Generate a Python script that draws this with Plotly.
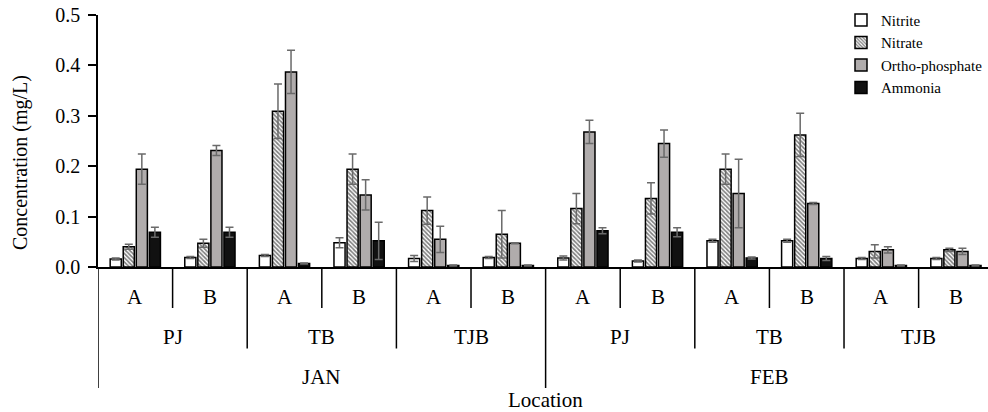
import plotly.graph_objects as go

# ---- data ----
months = ["JAN"] * 6 + ["FEB"] * 6
locations = ["PJ", "PJ", "TB", "TB", "TJB", "TJB"] * 2
sites = ["A", "B"] * 6

nitrite = [0.016, 0.019, 0.023, 0.048, 0.017, 0.019, 0.018, 0.012, 0.052, 0.052, 0.017, 0.017]
nitrite_err = [0.002, 0.002, 0.002, 0.010, 0.006, 0.002, 0.004, 0.002, 0.003, 0.003, 0.002, 0.002]

nitrate = [0.040, 0.047, 0.309, 0.194, 0.112, 0.065, 0.116, 0.136, 0.194, 0.262, 0.031, 0.034]
nitrate_err = [0.005, 0.008, 0.054, 0.030, 0.027, 0.047, 0.030, 0.031, 0.030, 0.043, 0.013, 0.003]

ortho = [0.194, 0.231, 0.387, 0.143, 0.055, 0.047, 0.268, 0.245, 0.146, 0.126, 0.034, 0.031]
ortho_err = [0.030, 0.010, 0.043, 0.030, 0.026, 0.001, 0.023, 0.027, 0.068, 0.002, 0.006, 0.006]

ammonia = [0.069, 0.069, 0.007, 0.052, 0.003, 0.003, 0.072, 0.069, 0.018, 0.017, 0.003, 0.003]
ammonia_err = [0.010, 0.010, 0.001, 0.037, 0.001, 0.001, 0.006, 0.009, 0.002, 0.004, 0.001, 0.001]

yticks = [0.0, 0.1, 0.2, 0.3, 0.4, 0.5]

# ---- figure ----
FONT = "Times New Roman"
x = list(range(len(sites)))

series = [
    ("Nitrite", nitrite, nitrite_err, dict(color="white")),
    ("Nitrate", nitrate, nitrate_err,
     dict(color="white", pattern=dict(shape="\\", fgcolor="black", bgcolor="white", size=3, solidity=0.55))),
    ("Ortho-phosphate", ortho, ortho_err, dict(color="#b0acac")),
    ("Ammonia", ammonia, ammonia_err, dict(color="#111111")),
]

fig = go.Figure()
for name, vals, errs, mk in series:
    mk = dict(mk)
    mk["line"] = dict(color="black", width=1.5)
    fig.add_trace(go.Bar(
        x=x, y=vals, name=name, marker=mk,
        error_y=dict(type="data", array=errs, visible=True, color="#6a6a6a", thickness=1.5, width=4),
    ))

W, H = 988, 412
PLOT_L, PLOT_T, PLOT_B = 98, 15, 267
PLOT_H = PLOT_B - PLOT_T
PLOT_W = W - PLOT_L

n = len(sites)
fig.update_layout(
    width=W, height=H,
    margin=dict(l=PLOT_L, r=0, t=PLOT_T, b=H - PLOT_B, autoexpand=False),
    paper_bgcolor="white", plot_bgcolor="white",
    barmode="group", bargap=0.3, bargroupgap=0.15,
    font=dict(family=FONT, size=20, color="black"),
    showlegend=True,
    legend=dict(x=1.0, y=1.045, xanchor="right", yanchor="top", bgcolor="rgba(0,0,0,0)",
                font=dict(size=15, family=FONT), tracegroupgap=0, itemwidth=30),
    xaxis=dict(range=[-0.5, n - 0.57], showticklabels=False, ticks="", showgrid=False, automargin=False,
               zeroline=False, showline=True, linecolor="black", linewidth=1.5),
    yaxis=dict(range=[0, 0.5], tickvals=yticks, tickformat=".1f", ticks="outside", ticklen=8,
               tickwidth=1.5, tickcolor="black", showgrid=False, zeroline=False, showline=True,
               ticklabeloverflow="allow", ticklabelstandoff=4,
               automargin=False, linecolor="black", linewidth=1.5, tickfont=dict(size=20, family=FONT)),
)

# ---- hierarchical x labels (positions given in screenshot pixels) ----
def ypaper(px):
    return (PLOT_B - px) / float(PLOT_H)

levels = [(sites, ypaper(296.5), ypaper(308)),
          (locations, ypaper(336.5), ypaper(348.5)),
          (months, ypaper(376.5), ypaper(388))]

shapes = []
annos = []
for li, (labels, ylab, ybot) in enumerate(levels):
    start = 0
    for i in range(1, n + 1):
        boundary = i == n
        if not boundary:
            for hl in range(li, len(levels)):
                if levels[hl][0][i] != levels[hl][0][i - 1]:
                    boundary = True
                    break
        if boundary:
            annos.append(dict(x=(start + i - 1) / 2.0, y=ylab, xref="x", yref="paper",
                              text=labels[start], showarrow=False, xanchor="center", yanchor="middle",
                              font=dict(size=21, family=FONT)))
            start = i

for i in range(n + 1):
    if i == 0 or i == n or months[i] != months[i - 1]:
        depth = levels[2][2]
    elif locations[i] != locations[i - 1]:
        depth = levels[1][2]
    else:
        depth = levels[0][2]
    shapes.append(dict(type="line", xref="x", yref="paper", x0=i - 0.5, x1=i - 0.5,
                       y0=0, y1=depth, line=dict(color="black", width=1.5)))

annos.append(dict(x=(n - 1) / 2.0, y=ypaper(400), xref="x", yref="paper", text="Location",
                  showarrow=False, xanchor="center", yanchor="middle", font=dict(size=21, family=FONT)))
annos.append(dict(x=(20 - PLOT_L) / float(PLOT_W), y=ypaper(163), xref="paper", yref="paper",
                  text="Concentration (mg/L)", textangle=-90, showarrow=False,
                  xanchor="center", yanchor="middle", font=dict(size=20, family=FONT)))

fig.update_layout(shapes=shapes, annotations=annos)
fig.write_html("out.html", config={"displayModeBar": False},
               post_script="document.body.style.margin='0';")
